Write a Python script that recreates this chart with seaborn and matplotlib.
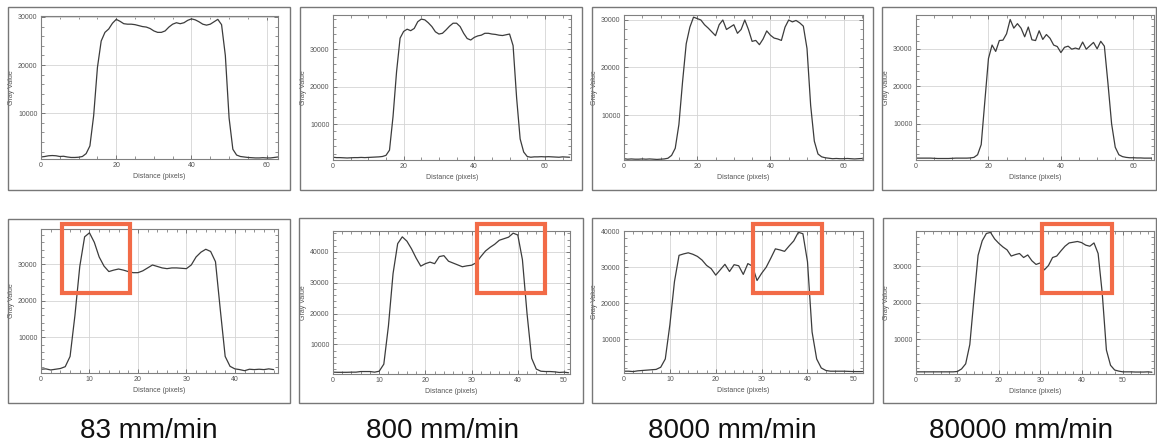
import numpy as np
import pandas as pd
import matplotlib
matplotlib.use("Agg")
import matplotlib.pyplot as plt
from matplotlib.patches import Rectangle
from matplotlib.ticker import MultipleLocator
import seaborn as sns

# ---------------- data (gray value profiles) ----------------
speeds = ["83 mm/min", "800 mm/min", "8000 mm/min", "80000 mm/min"]

top_83 = [900, 1000, 1150, 1200, 1150, 1000, 1050, 900, 800, 800, 850, 1000,
          1600, 3200, 9500, 19500, 25000, 26800, 27500, 28700, 29500, 29100, 28600,
          28500, 28500, 28400, 28200, 28000, 27900, 27600, 27100, 26800, 26800, 27100,
          27900, 28500, 28800, 28600, 28800, 29300, 29600, 29400, 29000, 28500, 28300,
          28500, 29000, 29500, 28400, 22000, 9000, 2500, 1300, 1000,
          900, 800, 750, 700, 700, 750, 700, 700, 800, 900]
top_800 = [1100, 1000, 1000, 950, 900, 950, 1000, 1000, 1050, 1000, 1050, 1100, 1150, 1200, 1300,
           1600, 3000, 12000, 24000, 33000, 34800, 35400, 35000, 35600, 37400, 38100, 37900,
           37100, 36100, 34700, 34100, 34300, 35200, 36200, 37000, 37000, 36100, 34300, 32900,
           32500, 33200, 33600, 33800, 34300, 34300, 34100, 34000, 33800, 33700, 33900, 34100,
           31000, 17000, 6000, 2500, 1300,
           1100, 1200, 1200, 1250, 1200, 1250, 1200, 1150, 1100, 1200, 1150, 1100]
top_8000 = [800, 700, 750, 700, 700, 750, 700, 750, 700, 650, 700, 750, 900,
            1500, 3000, 8000, 17000, 25000, 28500, 30600, 30300, 30000, 29000, 28300, 27500,
            26700, 29000, 30000, 28000, 28500, 29000, 27200, 28000, 30000, 28000, 25500, 25700,
            24800, 26000, 27700, 26800, 26200, 26000, 25700, 28500, 30000, 29600, 29900, 29400,
            28700, 24000, 12000, 4500, 1800, 1200, 1000,
            900, 800, 850, 800, 800, 850, 800, 750, 800, 850]
top_80000 = [900, 900, 900, 900, 900, 850, 800, 800, 800, 800, 850, 900, 900, 900, 900, 950, 1100,
             1800, 4500, 16000, 27400, 31000, 29300, 32200, 32300, 34000, 37800, 35500, 36700,
             35500, 33200, 35800, 32400, 32200, 34800, 32500, 33800, 32800, 31000, 30600, 29000,
             30400, 30700, 29900, 30200, 29900, 31800, 29900, 30800, 31700, 30000, 32000, 30700,
             20700, 10000, 3800, 1800, 1300,
             1100, 1000, 1000, 950, 950, 900, 900, 900]

bot_83 = [1300, 1400, 1100, 1300, 1500, 2000, 4800, 16000, 29400, 37500, 38600, 36000, 32000,
          29500, 28000, 28400, 28700, 28400, 28000, 27700, 27700, 28200, 29000, 29800, 29400,
          29000, 28800, 29000, 29000, 28900, 28800, 29800, 32000, 33300, 34100, 33500, 30700,
          17500, 4800, 2100, 1400, 1200, 900, 1300, 1200, 1300, 1200, 1400, 1200]
bot_800 = [1000, 950, 950, 950, 1000, 1000, 1200, 1200, 1200, 1000, 1300, 3600, 16000, 33000,
           42700, 44900, 43500, 41000, 38000, 35400, 36200, 36700, 36200, 38500, 38800, 37000,
           36400, 35800, 35200, 35500, 35700, 36500, 38500, 40300, 41500, 42500, 43800, 44300,
           44800, 46100, 45500, 37500, 20000, 5500, 2000, 1300, 1200, 1200, 1100, 900, 1000, 800]
bot_8000 = [1100, 1100, 1000, 1200, 1300, 1400, 1500, 1600, 2200, 4500, 14000, 26000, 33300,
            33700, 34000, 33600, 33000, 32000, 30500, 29600, 27800, 29300, 30800, 28800, 30700,
            30400, 28000, 31000, 30300, 26300, 28300, 30000, 32500, 35100, 34800, 34400, 35900,
            37300, 39700, 39300, 31500, 12000, 4500, 2000, 1300, 1100, 1100, 1100, 1100, 1050,
            1000, 1000, 1000]
bot_80000 = [1000, 1000, 1000, 1000, 1000, 1000, 1000, 1000, 1000, 1000, 1100,
             1800, 3200, 8500, 21000, 33000, 37000, 39000, 39300, 37500, 36300, 35300, 34500,
             32800, 33200, 33500, 32400, 33100, 31500, 30500, 30900, 29000, 30200, 32400, 32800,
             34200, 35500, 36400, 36600, 36800, 36500, 35800, 35500, 36400, 33500, 22500, 7000,
             2800, 1500, 1200,
             1000, 1000, 1000, 950, 950, 950, 1000, 900]

top_profiles = [top_83, top_800, top_8000, top_80000]
bot_profiles = [bot_83, bot_800, bot_8000, bot_80000]

x_label = "Distance (pixels)"
y_label = "Gray Value"

# ---------------- layout (pixels) ----------------
W, H = 1157, 448
top_axes = [(41, 278, 16, 159, 63.0, 480, 30200),
            (333, 571, 15, 160, 67.4, 360, 39200),
            (624, 863, 15, 160, 65.3, 530, 31050),
            (916, 1154, 15, 160, 65.7, 400, 39000)]
bot_axes = [(41, 278, 229, 373, 48.9, 270, 39640),
            (333, 570, 231, 374, 51.3, 400, 46800),
            (624, 863, 231, 373, 52.1, 600, 40060),
            (916, 1154, 231, 374, 57.5, 410, 39680)]
top_frames = [(8, 290, 7, 190), (300, 582, 7, 190), (592, 873, 7, 190), (882, 1156, 7, 190)]
bot_frames = [(8, 290, 219, 403), (299, 583, 218, 403), (592, 873, 218, 403), (883, 1156, 218, 403)]
highlight = [(62, 130, 224, 293), (477, 545, 224, 293), (753, 822, 224, 293), (1042, 1112, 224, 293)]
label_x = [149, 442, 732, 1021]

sns.set_theme(style="white")
plt.rcParams['font.family'] = ['Liberation Sans', 'DejaVu Sans']

fig = plt.figure(figsize=(W / 100, H / 100), dpi=100)
fig.patch.set_facecolor("white")

def fx(px):
    return px / W

def fy(py):
    return 1 - py / H

# outer window frames
for (l, r, t, b) in top_frames + bot_frames:
    fig.add_artist(Rectangle((fx(l), fy(b)), fx(r) - fx(l), fy(t) - fy(b),
                             transform=fig.transFigure, fill=False,
                             edgecolor="#777777", linewidth=1.0))

def draw_panel(spec, values, xmajor, xminor):
    l, r, t, b, xmax, ymin, ymax = spec
    ax = fig.add_axes([fx(l), fy(b), fx(r) - fx(l), fy(t) - fy(b)])
    df = pd.DataFrame({"d": np.arange(len(values)), "g": values})
    sns.lineplot(data=df, x="d", y="g", ax=ax, color="#3c3c3c", linewidth=0.9)
    ax.set_xlim(0, xmax)
    ax.set_ylim(ymin, ymax)
    ax.xaxis.set_major_locator(MultipleLocator(xmajor))
    ax.xaxis.set_minor_locator(MultipleLocator(xminor))
    ax.yaxis.set_major_locator(MultipleLocator(10000))
    ax.yaxis.set_minor_locator(MultipleLocator(2000))
    ax.grid(True, which="major", color="#d4d4d4", linewidth=0.6)
    ax.set_axisbelow(True)
    ax.tick_params(which="both", direction="in", top=True, right=True,
                   bottom=True, left=True, colors="#666666", labelcolor="#555555",
                   labelsize=5, pad=2.5)
    ax.tick_params(which="major", length=3, width=0.6)
    ax.tick_params(which="minor", length=2, width=0.5)
    for s in ax.spines.values():
        s.set_color("#808080")
        s.set_linewidth(0.8)
    ax.set_xlabel(x_label, fontsize=5, color="#555555", labelpad=2.5)
    ax.set_ylabel(y_label, fontsize=5, color="#555555", labelpad=2.0)
    return ax

for spec, vals in zip(top_axes, top_profiles):
    draw_panel(spec, vals, 20, 5)
for spec, vals in zip(bot_axes, bot_profiles):
    draw_panel(spec, vals, 10, 2)

# orange highlight boxes
for (l, r, t, b) in highlight:
    fig.add_artist(Rectangle((fx(l), fy(b)), fx(r) - fx(l), fy(t) - fy(b),
                             transform=fig.transFigure, fill=False,
                             edgecolor="#F26B47", linewidth=3.0, zorder=10))

# speed labels
for xp, txt in zip(label_x, speeds):
    fig.text(fx(xp), fy(431), txt, ha="center", va="center", fontsize=20, color="#111111")

fig.savefig("out.png", dpi=100, facecolor="white")
